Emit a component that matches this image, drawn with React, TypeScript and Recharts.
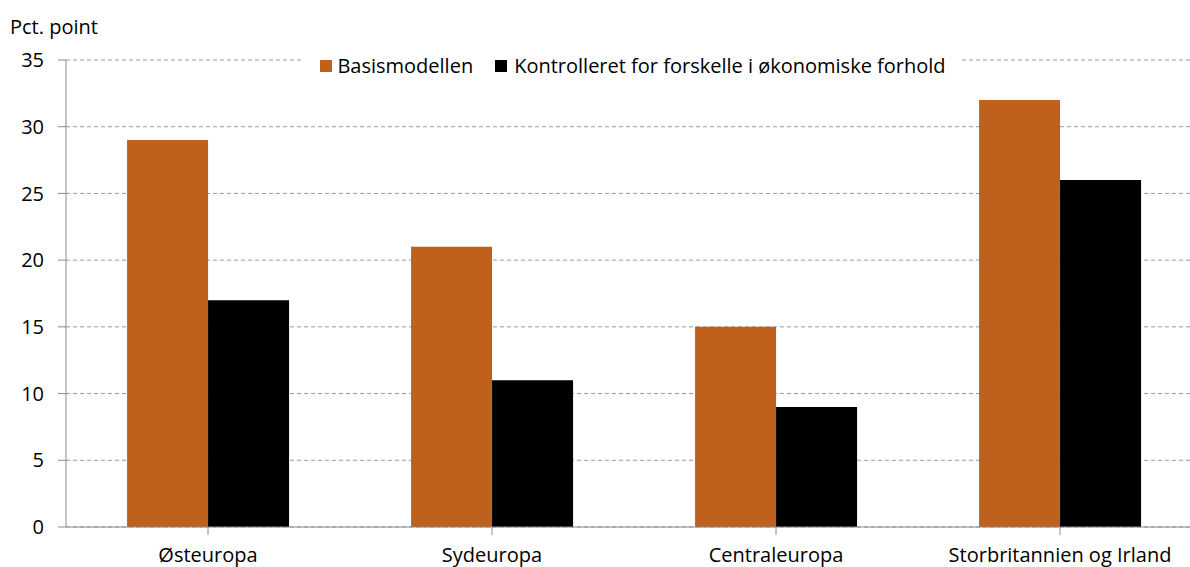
import React from "react";
import { BarChart, Bar, XAxis, YAxis, CartesianGrid } from "recharts";

const categories = ["Østeuropa", "Sydeuropa", "Centraleuropa", "Storbritannien og Irland"];
const basisValues = [29, 21, 15, 32];
const kontrolValues = [17, 11, 9, 26];
const yTicks = [0, 5, 10, 15, 20, 25, 30, 35];
const seriesNames = ["Basismodellen", "Kontrolleret for forskelle i økonomiske forhold"];
const yAxisTitle = "Pct. point";

const data = categories.map((c, i) => ({ name: c, basis: basisValues[i], kontrol: kontrolValues[i] }));

const FONT = "'Open Sans', sans-serif";
const FS = 20;
const ORANGE = "#C0601D";

export default function App() {
  return (
    <div style={{ position: "fixed", left: 0, top: 0, width: 1190, height: 567, overflow: "hidden", background: "#fff" }}>
      <BarChart
        width={1202}
        height={567}
        data={data}
        margin={{ top: 60, right: 0, bottom: 0, left: 0 }}
        barCategoryGap="21.5%"
        barGap={0}
      >
        <CartesianGrid vertical={false} stroke="#9a9a9a" strokeDasharray="4 3" />
        <XAxis
          dataKey="name"
          height={40}
          interval={0}
          tickSize={8}
          tickMargin={13}
          stroke="#8c8c8c"
          tick={{ fill: "#000", fontFamily: FONT, fontSize: FS }}
        />
        <YAxis
          width={66}
          domain={[0, 35]}
          ticks={yTicks}
          interval={0}
          tickSize={8}
          tickMargin={14}
          stroke="#8c8c8c"
          tick={{ fill: "#000", fontFamily: FONT, fontSize: FS }}
        />
        <Bar dataKey="basis" name={seriesNames[0]} fill={ORANGE} isAnimationActive={false} />
        <Bar dataKey="kontrol" name={seriesNames[1]} fill="#000" isAnimationActive={false} />
      </BarChart>
      <div style={{ position: "absolute", left: 10, top: 13, fontFamily: FONT, fontSize: FS, color: "#000", lineHeight: "28px" }}>{yAxisTitle}</div>
      <div style={{ position: "absolute", left: 0, top: 52, width: 1266, display: "flex", justifyContent: "center" }}>
        <div style={{ display: "flex", alignItems: "center", background: "#fff", padding: "0 16px", fontFamily: FONT, fontSize: FS, color: "#000", lineHeight: "28px" }}>
          <span style={{ width: 12, height: 12, background: ORANGE, display: "inline-block", marginRight: 5 }} />
          <span style={{ marginRight: 22 }}>{seriesNames[0]}</span>
          <span style={{ width: 12, height: 12, background: "#000", display: "inline-block", marginRight: 7 }} />
          <span>{seriesNames[1]}</span>
        </div>
      </div>
    </div>
  );
}
